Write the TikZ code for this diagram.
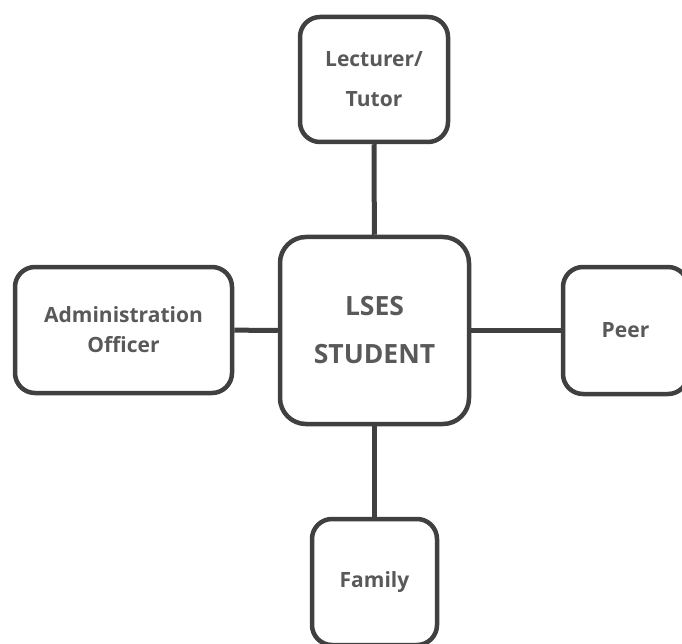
\documentclass[tikz,border=0pt]{standalone}
\usepackage{fontspec}
\setmainfont{Open Sans}
\definecolor{edgegray}{HTML}{404040}
\definecolor{textgray}{HTML}{595959}
\tikzset{
  role/.style={draw=edgegray, line width=4.5pt, rounded corners=20pt, fill=white,
    inner sep=0pt, align=center, text=textgray, font=\bfseries\fontsize{21}{40}\selectfont},
  link/.style={draw=edgegray, line width=5pt},
}
\begin{document}
\begin{tikzpicture}[x=1pt,y=-1pt]
  \useasboundingbox (0,0) rectangle (682,644);
  % centre box
  \node[role, rounded corners=26pt, minimum width=189pt, minimum height=187pt,
        font=\bfseries\fontsize{26.5}{48}\selectfont] (student) at (374.5,330.5) {LSES\\STUDENT};
  % the four around it
  \node[role, minimum width=148pt, minimum height=125pt] (tutor) at (374,79.5) {Lecturer/\\Tutor};
  \node[role, minimum width=217pt, minimum height=126pt,
        font=\bfseries\fontsize{21}{30}\selectfont] (admin) at (123.5,330) {Administration\\Officer};
  \node[role, minimum width=125pt, minimum height=127pt] (peer) at (625.5,330.5) {Peer};
  \node[role, minimum width=125pt, minimum height=126pt] (family) at (374.5,582) {Family};
  \foreach \other in {tutor,admin,peer,family} {
      \draw[link] (student) -- (\other);
  }
\end{tikzpicture}
\end{document}
